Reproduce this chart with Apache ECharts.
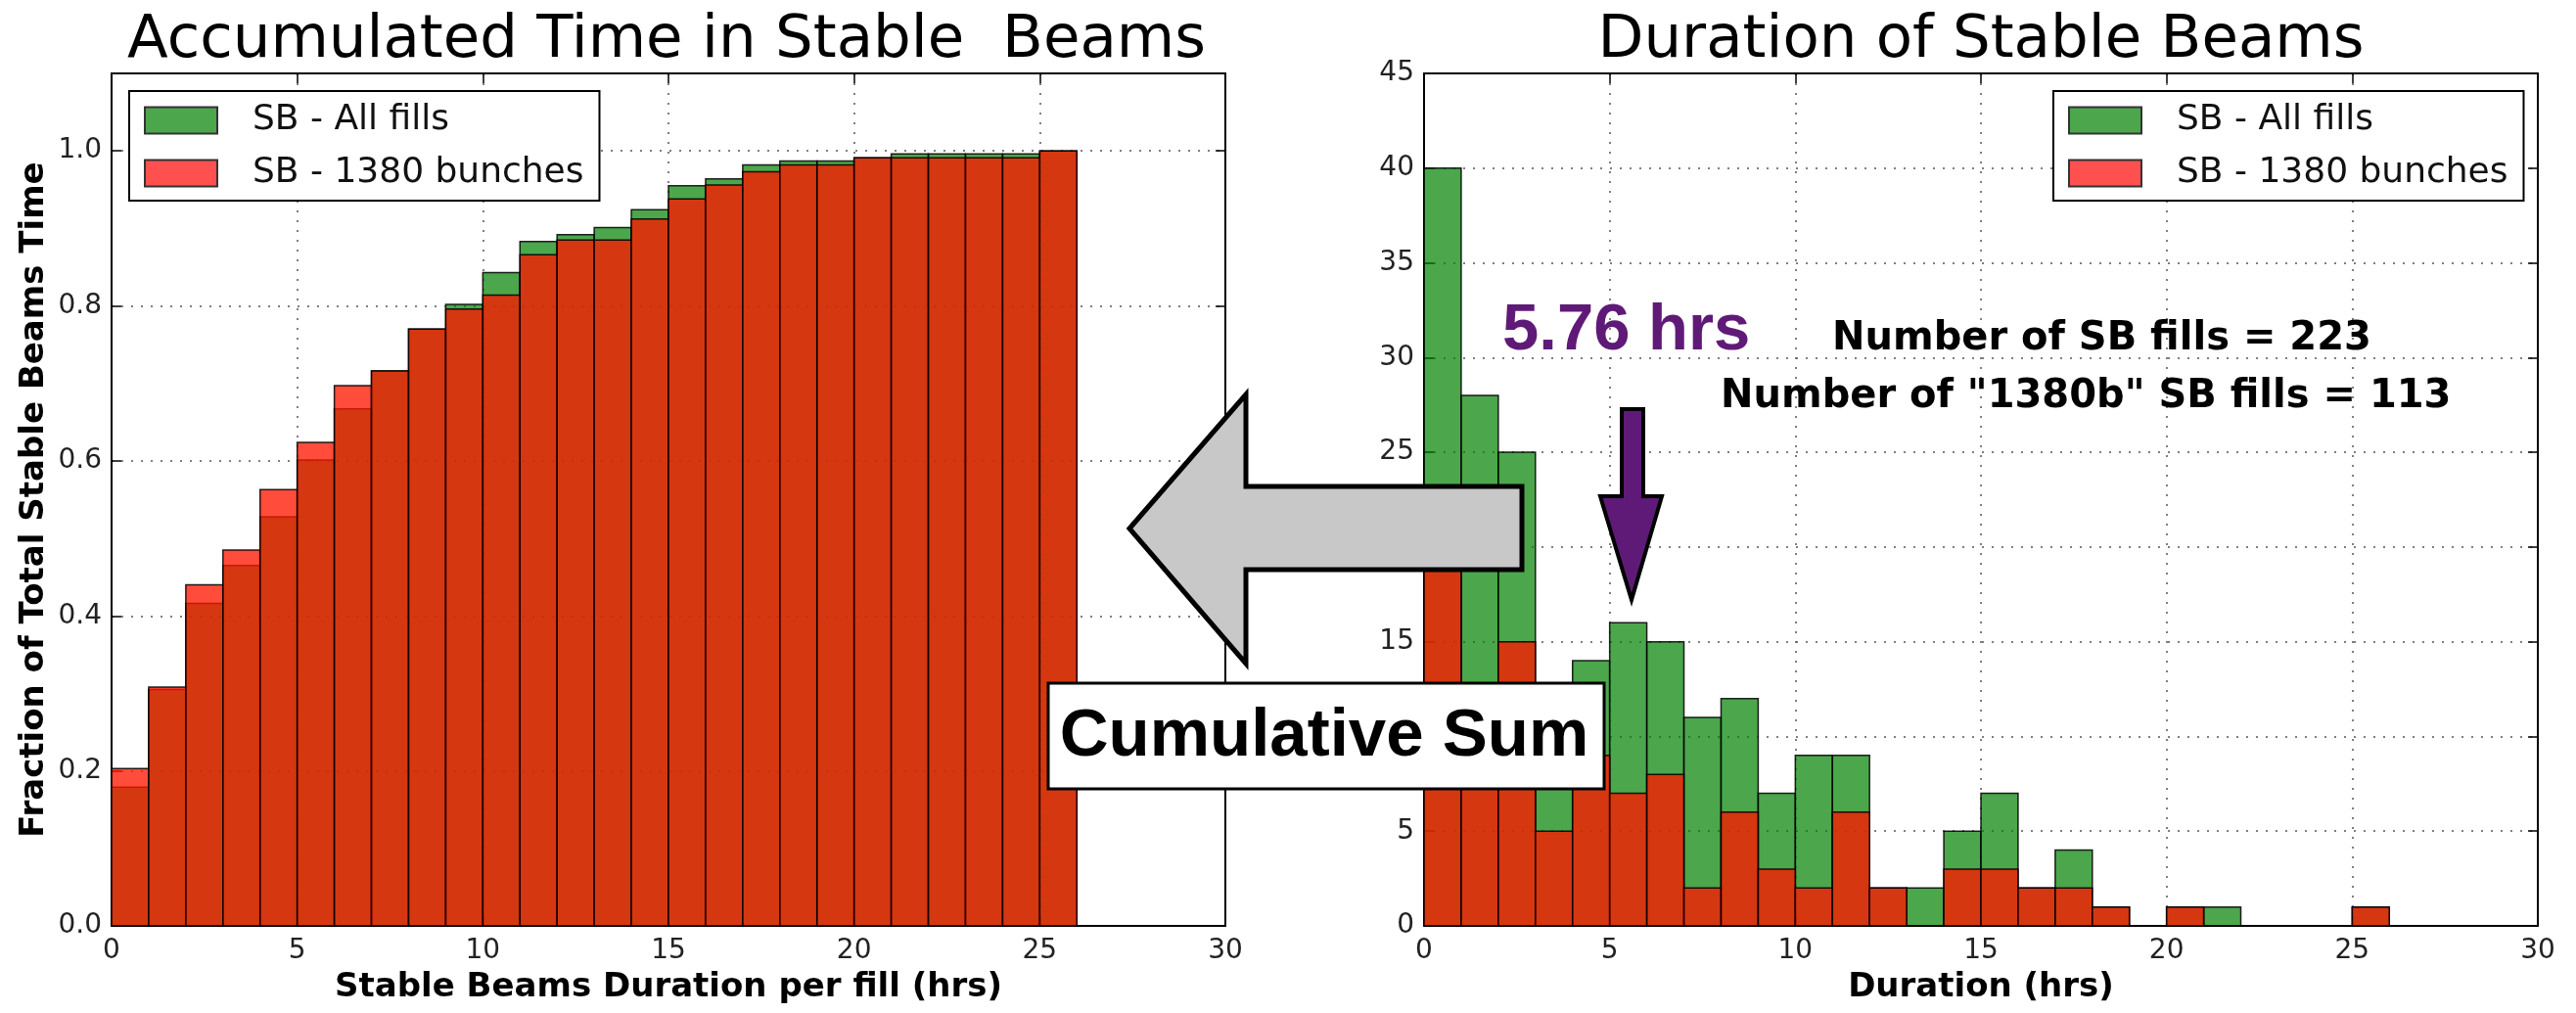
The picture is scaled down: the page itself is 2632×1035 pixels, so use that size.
<!DOCTYPE html>
<html>
<head>
<meta charset="utf-8">
<title>Stable Beams</title>
<script src="https://cdn.jsdelivr.net/npm/echarts@6/dist/echarts.min.js"></script>
<style>
  html, body { margin: 0; padding: 0; background: #fff; }
  #chart { width: 2632px; height: 1035px; }
</style>
</head>
<body>
<div id="chart"></div>
<script>
// histogram bins of 1 h, from 0 to 26 h
const binStart = [0, 1, 2, 3, 4, 5, 6, 7, 8, 9, 10, 11, 12, 13, 14, 15, 16, 17, 18, 19, 20, 21, 22, 23, 24, 25]
const binWidth = 1

// right: number of fills per bin
const allFills  = [40, 28, 25, 11, 14, 16, 15, 11, 12, 7, 9, 9, 2, 2, 5, 7, 2, 4, 1, 0, 1, 1, 0, 0, 0, 1]
const fills1380 = [23, 12, 15, 5, 9, 7, 8, 2, 6, 3, 2, 6, 2, 0, 3, 3, 2, 2, 1, 0, 1, 0, 0, 0, 0, 1]

// left: accumulated fraction
const cumAll  = [0.179, 0.305, 0.416, 0.465, 0.528, 0.601, 0.667, 0.716, 0.770, 0.802, 0.843, 0.883, 0.892, 0.901, 0.924, 0.955, 0.964, 0.982, 0.987, 0.987, 0.991, 0.996, 0.996, 0.996, 0.996, 1.0]
const cum1380 = [0.203, 0.308, 0.440, 0.485, 0.563, 0.624, 0.697, 0.716, 0.770, 0.796, 0.814, 0.866, 0.885, 0.885, 0.912, 0.938, 0.956, 0.973, 0.982, 0.982, 0.991, 0.991, 0.991, 0.991, 0.991, 1.0]

const xTicks = { min: 0, max: 30, interval: 5 }
const NAME_ALL = 'SB - All fills'
const NAME_1380 = 'SB - 1380 bunches'

// red drawn over green, both see-through like the mpl hist
const GREEN = 'rgba(0,128,0,0.7)'
const RED = 'rgba(255,22,0,0.77)'
const EDGE = 'rgba(0,0,0,0.85)'

const chart = echarts.init(document.getElementById('chart'))

const frame = { show: true, onZero: false, lineStyle: { color: '#000', width: 2 } }
const ticksIn = { show: true, inside: true, length: 10, lineStyle: { color: '#000', width: 1.5 } }
const dots = { show: true, lineStyle: { color: '#555', width: 1.5, type: [2, 8] } }
const tickFont = { fontFamily: 'DejaVu Sans', fontSize: 28, color: '#222' }
const nameFont = { fontFamily: 'DejaVu Sans', fontWeight: 'bold', fontSize: 34, color: '#000' }

function xAxes(gi, name) {
  return [
    { gridIndex: gi, type: 'value', ...xTicks, axisLine: frame, axisTick: ticksIn, splitLine: dots,
      axisLabel: { ...tickFont, margin: 12 },
      name, nameLocation: 'middle', nameGap: 46, nameTextStyle: nameFont },
    { gridIndex: gi, type: 'value', position: 'top', ...xTicks, axisLine: frame, axisTick: ticksIn,
      splitLine: { show: false }, axisLabel: { show: false } }
  ]
}

function yAxes(gi, max, interval, fmt, name) {
  const base = { gridIndex: gi, type: 'value', min: 0, max, interval }
  return [
    { ...base, axisLine: frame, axisTick: ticksIn, splitLine: dots,
      axisLabel: { ...tickFont, margin: 10, formatter: fmt, showMaxLabel: max === 45 },
      name, nameLocation: 'middle', nameGap: 62, nameTextStyle: nameFont },
    { ...base, position: 'right', axisLine: frame, axisTick: ticksIn,
      splitLine: { show: false }, axisLabel: { show: false } }
  ]
}

// one rect per bin, placed through the axes
function histSeries(name, vals, color, xi, yi) {
  return {
    name, type: 'custom', xAxisIndex: xi, yAxisIndex: yi, clip: true,
    itemStyle: { color },
    data: binStart.map((b, i) => [b, vals[i]]),
    encode: { x: 0, y: 1 },
    renderItem: (params, api) => {
      const x0 = api.value(0)
      const p0 = api.coord([x0, api.value(1)])
      const p1 = api.coord([x0 + binWidth, 0])
      return {
        type: 'rect',
        shape: { x: p0[0], y: p0[1], width: p1[0] - p0[0], height: p1[1] - p0[1] },
        style: { fill: color, stroke: EDGE, lineWidth: 1.5 }
      }
    }
  }
}

function legendAt(left) {
  return {
    left, top: 93, orient: 'vertical', icon: 'rect',
    itemWidth: 74, itemHeight: 27, itemGap: 18,
    padding: [12, 16, 10, 15],
    borderColor: '#000', borderWidth: 2, backgroundColor: '#fff',
    textStyle: { fontFamily: 'DejaVu Sans', fontSize: 36, lineHeight: 36, color: '#111', padding: [0, 0, 0, 31] },
    data: [
      { name: NAME_ALL, itemStyle: { color: '#4ca64c', borderColor: '#333', borderWidth: 2 } },
      { name: NAME_1380, itemStyle: { color: '#ff5050', borderColor: '#333', borderWidth: 2 } }
    ]
  }
}

const titleFont = '61px "DejaVu Sans"'
const heavy = (px) => `bold ${px}px "Liberation Sans"`

chart.setOption({
  animation: false,
  backgroundColor: '#fff',
  grid: [
    { left: 114, top: 75, width: 1138, height: 871 },
    { left: 1455, top: 75, width: 1138, height: 871 }
  ],
  xAxis: [
    ...xAxes(0, 'Stable Beams Duration per fill (hrs)'),
    ...xAxes(1, 'Duration (hrs)')
  ],
  yAxis: [
    ...yAxes(0, 1.1, 0.2, (v) => v.toFixed(1), 'Fraction of Total Stable Beams Time'),
    ...yAxes(1, 45, 5, (v) => String(v), '')
  ],
  legend: [legendAt(132), legendAt(2098)],
  series: [
    histSeries(NAME_ALL, cumAll, GREEN, 0, 0),
    histSeries(NAME_1380, cum1380, RED, 0, 0),
    histSeries(NAME_ALL, allFills, GREEN, 2, 2),
    histSeries(NAME_1380, fills1380, RED, 2, 2)
  ],
  graphic: [
    { type: 'text', z: 100, x: 681, y: 42,
      style: { text: 'Accumulated Time in Stable  Beams', font: titleFont, fill: '#000', align: 'center', verticalAlign: 'middle' } },
    { type: 'text', z: 100, x: 2024, y: 42,
      style: { text: 'Duration of Stable Beams', font: titleFont, fill: '#000', align: 'center', verticalAlign: 'middle' } },
    // big grey arrow
    { type: 'polygon', z: 100,
      shape: { points: [[1154, 540], [1273, 403], [1273, 497], [1555, 497], [1555, 582], [1273, 582], [1273, 678]] },
      style: { fill: '#c8c8c8', stroke: '#000', lineWidth: 5, lineJoin: 'miter' } },
    { type: 'rect', z: 100, shape: { x: 1071, y: 698, width: 568, height: 108 },
      style: { fill: '#fff', stroke: '#000', lineWidth: 3 } },
    { type: 'text', z: 101, x: 1353, y: 753,
      style: { text: 'Cumulative Sum', font: heavy(69), fill: '#000', align: 'center', verticalAlign: 'middle' } },
    // mean duration marker
    { type: 'text', z: 100, x: 1535, y: 339,
      style: { text: '5.76 hrs', font: heavy(67), fill: '#5f1a78', align: 'left', verticalAlign: 'middle' } },
    { type: 'polygon', z: 100,
      shape: { points: [[1657, 418], [1679, 418], [1679, 507], [1698, 507], [1667, 613], [1635, 507], [1657, 507]] },
      style: { fill: '#5f1a78', stroke: '#000', lineWidth: 4, lineJoin: 'miter' } },
    { type: 'text', z: 100, x: 1872, y: 347,
      style: { text: 'Number of SB fills = 223', font: 'bold 40px "DejaVu Sans"', fill: '#000', align: 'left', verticalAlign: 'middle' } },
    { type: 'text', z: 100, x: 1758, y: 406,
      style: { text: 'Number of "1380b" SB fills = 113', font: 'bold 40px "DejaVu Sans"', fill: '#000', align: 'left', verticalAlign: 'middle' } }
  ]
})
</script>
</body>
</html>
